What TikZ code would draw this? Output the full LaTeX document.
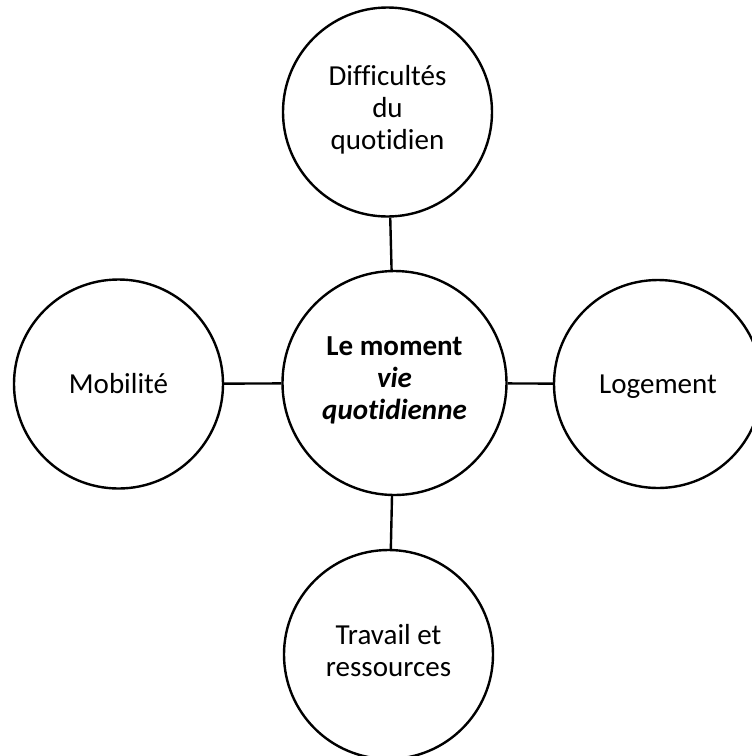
\documentclass[tikz,border=0pt]{standalone}
\usepackage{fontspec}
\setmainfont{Carlito}[Ligatures=NoCommon]
\begin{document}
\begin{tikzpicture}[x=1pt,y=-1pt,
  bubble/.style={draw=black,line width=2.4pt,circle,inner sep=0pt,align=center,
    font=\fontsize{29}{32}\selectfont,
    execute at begin node={\rule{0pt}{28pt}},
    execute at end node={\rule[-9pt]{0pt}{0pt}}},
  link/.style={draw=black,line width=2.4pt}]
\useasboundingbox (0,0) rectangle (752,756);
\clip (0,0) rectangle (752,756);
\node[bubble,minimum size=224pt] (c) at (394.5,383) {\textbf{Le moment}\\\textbf{\textit{vie}}\\\textbf{\textit{quotidienne}}};
\node[bubble,minimum size=209pt] (t) at (387.5,112) {Difficultés\\du\\quotidien};
\node[bubble,minimum size=209pt] (l) at (118.5,384) {Mobilité};
\node[bubble,minimum size=208pt] (r) at (658,384) {Logement};
\node[bubble,minimum size=209pt] (b) at (388.5,654.5) {Travail et\\ressources};
\draw[link] (c) -- (t);
\draw[link] (c) -- (l);
\draw[link] (c) -- (r);
\draw[link] (c) -- (b);
\end{tikzpicture}
\end{document}
